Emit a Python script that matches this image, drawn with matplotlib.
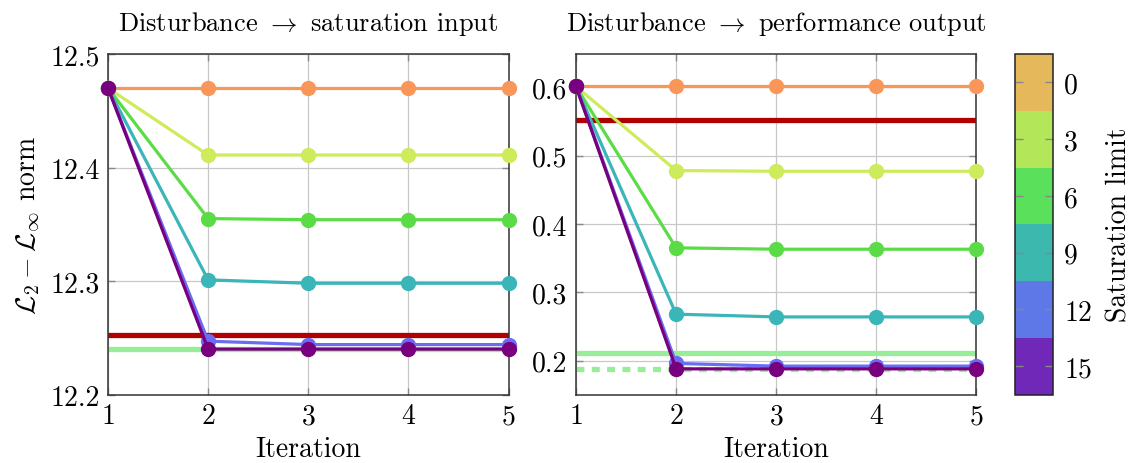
import matplotlib
matplotlib.use("Agg")
import matplotlib.pyplot as plt
import matplotlib.colors as mcolors
import matplotlib.cm as cm
import numpy as np

plt.rcParams['font.family'] = ['cmr10', 'DejaVu Serif']
plt.rcParams['mathtext.fontset'] = 'cm'
plt.rcParams['axes.formatter.use_mathtext'] = True
plt.rcParams['axes.unicode_minus'] = False

iterations = [1, 2, 3, 4, 5]
sat_limits = [0, 3, 6, 9, 12, 15]

# Disturbance -> saturation input
sat_in_0 = [12.470, 12.470, 12.470, 12.470, 12.470]
sat_in_3 = [12.470, 12.411, 12.411, 12.411, 12.411]
sat_in_6 = [12.470, 12.355, 12.354, 12.354, 12.354]
sat_in_9 = [12.470, 12.301, 12.298, 12.298, 12.298]
sat_in_12 = [12.470, 12.247, 12.244, 12.244, 12.244]
sat_in_15 = [12.470, 12.240, 12.240, 12.240, 12.240]
sat_in_red = 12.2525
sat_in_lightgreen = 12.2405

# Disturbance -> performance output
perf_0 = [0.601, 0.601, 0.601, 0.601, 0.601]
perf_3 = [0.601, 0.478, 0.477, 0.477, 0.477]
perf_6 = [0.601, 0.365, 0.363, 0.363, 0.363]
perf_9 = [0.601, 0.268, 0.264, 0.264, 0.264]
perf_12 = [0.601, 0.196, 0.192, 0.192, 0.192]
perf_15 = [0.601, 0.188, 0.188, 0.188, 0.188]
perf_red = 0.552
perf_lightgreen_solid = 0.211
perf_lightgreen_dashed = 0.188

line_colors = ['#F9975B', '#CDEB5A', '#5BDC46', '#3BB6B8', '#6B6BF3', '#78007F']
cbar_colors = ['#E6B85C', '#B4E65A', '#5AE05A', '#3DB8AE', '#5E78E8', '#7028B8']

fig = plt.figure(figsize=(11.33, 4.64), dpi=100)
W, H = 1133, 464
def box(x0, y0, x1, y1):
    return [x0 / W, 1 - y1 / H, (x1 - x0) / W, (y1 - y0) / H]

ax1 = fig.add_axes(box(108, 55, 508.5, 395.5))
ax2 = fig.add_axes(box(576, 55, 976.5, 395.5))
cax = fig.add_axes(box(1015, 55, 1053, 395.5))

fs = 20
tfs = 19

def style(ax):
    ax.grid(True, color='#c8c8c8', lw=0.9, zorder=0)
    ax.set_axisbelow(True)
    ax.tick_params(direction='in', length=5, width=1, color='#888888',
                   top=True, right=True, labelsize=fs, pad=6)
    for s in ax.spines.values():
        s.set_color('#333333')
        s.set_linewidth(1.1)
    ax.set_xlim(1, 5)
    ax.set_xticks(iterations)
    ax.set_xlabel('Iteration', fontsize=fs, labelpad=5)

series_left = [sat_in_0, sat_in_3, sat_in_6, sat_in_9, sat_in_12, sat_in_15]
series_right = [perf_0, perf_3, perf_6, perf_9, perf_12, perf_15]

# left
ax1.axhline(sat_in_red, color='#B00000', lw=3.8, zorder=2)
ax1.axhline(sat_in_lightgreen, color='#98EE98', lw=3.8, zorder=2)
for ys, c in zip(series_left, line_colors):
    ax1.plot(iterations, ys, color=c, lw=2.3, marker='o', markersize=10,
             zorder=3, clip_on=False)
ax1.set_ylim(12.2, 12.5)
ax1.set_yticks([12.2, 12.3, 12.4, 12.5])
ax1.set_yticklabels(['12.2', '12.3', '12.4', '12.5'])
style(ax1)
ax1.set_title(r'Disturbance $\rightarrow$ saturation input', fontsize=tfs, pad=17)
ax1.set_ylabel(r'$\mathcal{L}_2 - \mathcal{L}_\infty$ norm', fontsize=fs, labelpad=6)

# right
ax2.axhline(perf_red, color='#B00000', lw=3.8, zorder=2)
ax2.axhline(perf_lightgreen_solid, color='#98EE98', lw=3.8, zorder=2)
ax2.axhline(perf_lightgreen_dashed, color='#98EE98', lw=3.8, ls=(0, (1.5, 1.4)), zorder=2)
for ys, c in zip(series_right, line_colors):
    ax2.plot(iterations, ys, color=c, lw=2.3, marker='o', markersize=10,
             zorder=3, clip_on=False)
ax2.set_ylim(0.1505, 0.6485)
ax2.set_yticks([0.2, 0.3, 0.4, 0.5, 0.6])
ax2.set_yticklabels(['0.2', '0.3', '0.4', '0.5', '0.6'])
style(ax2)
ax2.set_title(r'Disturbance $\rightarrow$ performance output', fontsize=tfs, pad=17)

# colorbar
cmap = mcolors.ListedColormap(cbar_colors)
bounds = [s - 1.5 for s in sat_limits] + [sat_limits[-1] + 1.5]
norm = mcolors.BoundaryNorm(bounds, cmap.N)
cb = fig.colorbar(cm.ScalarMappable(norm=norm, cmap=cmap), cax=cax, ticks=sat_limits)
cb.ax.invert_yaxis()
cb.ax.minorticks_off()
cb.ax.set_yticklabels([str(s) for s in sat_limits])
cb.ax.tick_params(direction='in', length=6, width=1, color='#888888',
                  left=True, right=True, labelsize=fs, pad=8)
cb.outline.set_edgecolor('#222222')
cb.outline.set_linewidth(1.1)
cb.set_label('Saturation limit', fontsize=fs, labelpad=10)

fig.savefig('out.png', dpi=100)
